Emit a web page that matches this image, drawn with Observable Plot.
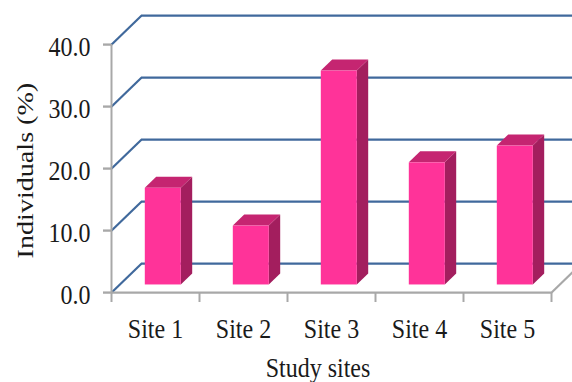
<!DOCTYPE html>
<html><head><meta charset="utf-8">
<script src="https://cdn.jsdelivr.net/npm/d3@7"></script>
<script src="https://cdn.jsdelivr.net/npm/@observablehq/plot@0.6"></script>
<style>html,body{margin:0;padding:0;background:#fff;} #chart{width:572px;height:382px;overflow:hidden;}</style>
</head><body><div id="chart"></div>
<script>
// ---- data ----
const sites = ["Site 1", "Site 2", "Site 3", "Site 4", "Site 5"];
const individuals = [15.6, 9.5, 34.5, 19.7, 22.4];
const yTicks = [0, 10, 20, 30, 40];
const yTitle = "Individuals (%)";
const xTitle = "Study sites";

// ---- layout (output pixels) ----
const W = 572, H = 382, PLOT_H = 326, STRETCH = H / PLOT_H;
const LEFT = 111, RIGHT = 551, TOP = 44, BOTTOM = 292;
const pxPerX = (RIGHT - LEFT) / sites.length;          // px per category
const pxPerY = (BOTTOM - TOP) / (yTicks[yTicks.length - 1] - yTicks[0]);
// 3D depth of the back wall, in data units
const BX = 30 / pxPerX, BY = 29 / pxPerY;
const FRONT = 0.26, BACK = 0.64, BW = 36 / pxPerX;
const FX = FRONT * BX, FY = FRONT * BY, DX = (BACK - FRONT) * BX, DY = (BACK - FRONT) * BY;

const BLUE = "#40699c", GRAY = "#a8a8a8";
const C_FRONT = "#ff3399", C_SIDE = "#a31e5e", C_TOP = "#c52571";

const bars = sites.map((s, i) => ({site: s, i, v: individuals[i]}));
const xl = d => d.i + 0.5 - BW / 2 + FX, xr = d => d.i + 0.5 + BW / 2 + FX;
const side = bars.flatMap(d => [
  {site: d.site, x: xr(d), y1: FY, y2: d.v + FY},
  {site: d.site, x: xr(d) + DX, y1: FY + DY, y2: d.v + FY + DY}
]);
const topFace = bars.flatMap(d => [
  {site: d.site, x: xl(d), y1: d.v + FY, y2: d.v + FY},
  {site: d.site, x: xl(d) + DX, y1: d.v + FY, y2: d.v + FY + DY},
  {site: d.site, x: xr(d), y1: d.v + FY, y2: d.v + FY + DY},
  {site: d.site, x: xr(d) + DX, y1: d.v + FY + DY, y2: d.v + FY + DY}
]);
const bounds = d3.range(sites.length + 1);

const svg = Plot.plot({
  width: W, height: PLOT_H,
  marginLeft: LEFT, marginRight: W - RIGHT,
  marginTop: TOP / STRETCH, marginBottom: PLOT_H - BOTTOM / STRETCH,
  style: {fontFamily: "'Liberation Serif','Times New Roman',serif", fontSize: "24px", color: "#1a1a1a", background: "white"},
  x: {type: "linear", domain: [0, sites.length], axis: null},
  y: {type: "linear", domain: [yTicks[0], yTicks[yTicks.length - 1]], axis: null},
  marks: [
    // back wall gridlines and side-wall diagonals
    Plot.ruleY(yTicks, {y: d => d + BY, x1: () => BX, x2: () => sites.length + BX, stroke: BLUE, strokeWidth: 2}),
    Plot.link(yTicks, {x1: () => 0, y1: d => d, x2: () => BX, y2: d => d + BY, stroke: BLUE, strokeWidth: 2}),
    // axes
    Plot.ruleX([0], {x: d => d, y1: () => yTicks[0], y2: () => yTicks[yTicks.length - 1], stroke: GRAY, strokeWidth: 2}),
    Plot.ruleY([0], {y: d => d, x1: () => 0, x2: () => sites.length, stroke: GRAY, strokeWidth: 2}),
    Plot.link([0], {x1: () => sites.length, y1: () => 0, x2: () => sites.length + BX, y2: () => BY, stroke: GRAY, strokeWidth: 2}),
    Plot.ruleY(yTicks, {y: d => d, x1: () => -8 / pxPerX, x2: () => 0, stroke: GRAY, strokeWidth: 2}),
    Plot.ruleX(bounds, {x: d => d, y1: () => 0, y2: () => -10 / pxPerY, stroke: GRAY, strokeWidth: 2}),
    // bars
    Plot.areaY(side, {x: "x", y1: "y1", y2: "y2", z: "site", fill: C_SIDE, curve: "linear"}),
    Plot.areaY(topFace, {x: "x", y1: "y1", y2: "y2", z: "site", fill: C_TOP, curve: "linear"}),
    Plot.rect(bars, {x1: xl, x2: xr, y1: () => FY, y2: d => d.v + FY, fill: C_FRONT}),
    // tick labels
    Plot.text(yTicks, {x: () => 0, y: d => d, text: d => d.toFixed(1), textAnchor: "end", lineAnchor: "middle", dx: -21, dy: 2, fontSize: 24}),
    Plot.text(bars, {x: d => d.i + 0.5, y: () => 0, text: "site", lineAnchor: "bottom", dy: 38.4, fontSize: 24}),
    // titles
    Plot.text([xTitle], {frameAnchor: "bottom", text: d => d, lineAnchor: "bottom", dx: -13.5, dy: 71.8, fontSize: 24}),
    Plot.text([yTitle], {frameAnchor: "left", text: d => d, rotate: -90, textAnchor: "middle", lineAnchor: "bottom", dx: -79, dy: 1.7, fontSize: 24})
  ]
});
svg.setAttribute("preserveAspectRatio", "none");
svg.setAttribute("height", H);
svg.style.width = W + "px";
svg.style.height = H + "px";
svg.style.maxWidth = "none";
document.getElementById("chart").appendChild(svg);
</script>
</body></html>
